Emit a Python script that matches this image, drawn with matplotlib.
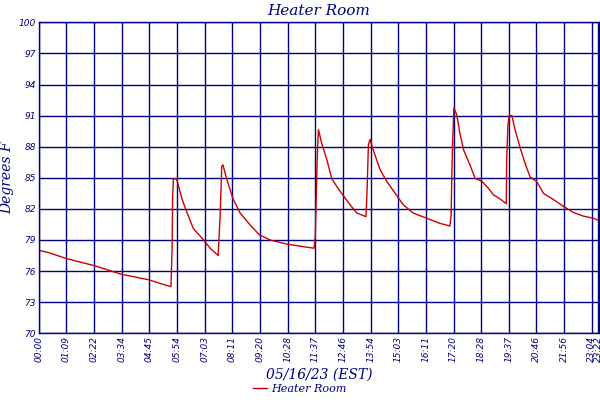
import matplotlib
matplotlib.use("Agg")
import matplotlib.pyplot as plt
import numpy as np

# elapsed time (approx. minutes on the chart's sample axis) and temperature (deg F)
minutes = [0, 23, 70, 141, 206, 276, 321, 331, 334, 335, 337, 345, 359, 370, 387, 408,
           429, 449, 454, 458, 461, 471, 486, 504, 529, 552, 579, 621, 654, 689, 692,
           697, 700, 708, 721, 733, 746, 758, 779, 796, 819, 822, 825, 829, 837, 854,
           871, 892, 912, 937, 971, 1004, 1029, 1032, 1034, 1036, 1039, 1046, 1054,
           1063, 1079, 1092, 1109, 1125, 1138, 1155, 1170, 1171, 1174, 1177, 1184,
           1192, 1205, 1217, 1230, 1246, 1263, 1288, 1313, 1338, 1363, 1388, 1403]
temps = [78.0, 77.8, 77.2, 76.5, 75.7, 75.15, 74.6, 74.5, 78.4, 83.1, 84.9, 84.9, 82.9,
         81.75, 80.1, 79.2, 78.2, 77.5, 81.3, 86.1, 86.25, 84.8, 83.0, 81.6, 80.45, 79.5,
         79.0, 78.6, 78.4, 78.2, 79.3, 87.05, 89.65, 88.35, 86.75, 84.95, 84.15, 83.5,
         82.4, 81.6, 81.25, 84.15, 88.2, 88.7, 87.7, 85.8, 84.65, 83.5, 82.4, 81.6, 81.1,
         80.6, 80.35, 81.4, 85.8, 88.7, 91.75, 91.1, 89.3, 87.7, 86.25, 84.95, 84.65,
         84.0, 83.35, 82.95, 82.5, 86.75, 90.0, 91.0, 91.0, 89.65, 87.85, 86.4, 85.05,
         84.65, 83.5, 82.9, 82.25, 81.65, 81.3, 81.1, 80.85]

x_tick_labels = ["00:00", "01:09", "02:22", "03:34", "04:45", "05:54", "07:03", "08:11",
                 "09:20", "10:28", "11:37", "12:46", "13:54", "15:03", "16:11", "17:20",
                 "18:28", "19:37", "20:46", "21:56", "23:04", "23:22"]
y_ticks = [70, 73, 76, 79, 82, 85, 88, 91, 94, 97, 100]

navy = "#000080"
red = "#CC0000"

fig = plt.figure(figsize=(6, 4), dpi=100)
ax = fig.add_axes([0.0645, 0.167, 0.9345, 0.777])

ax.plot(minutes, temps, color=red, lw=1.0, label="Heater Room")

step = 69.2
xt = list(np.arange(21) * step) + [1400.5]
ax.set_xticks(xt)
ax.set_xticklabels(x_tick_labels, rotation=90, fontsize=6.5, color=navy,
                   fontstyle="italic", family="DejaVu Sans")
ax.set_yticks(y_ticks)
ax.set_yticklabels([str(v) for v in y_ticks], fontsize=6.5, color=navy,
                   fontstyle="italic", family="DejaVu Sans")
ax.set_xlim(0, 1403)
ax.set_ylim(70, 100)
ax.grid(True, color=navy, lw=1.0)
ax.tick_params(axis="both", length=0, pad=2)
for s in ax.spines.values():
    s.set_color(navy)
    s.set_linewidth(1.0)

ax.set_title("Heater Room", color=navy, fontsize=11, fontstyle="italic",
             family="DejaVu Serif", pad=5)
ax.set_ylabel("Degrees F", color=navy, fontsize=10, fontstyle="italic",
              family="DejaVu Serif", labelpad=3)
ax.set_xlabel("05/16/23 (EST)", color=navy, fontsize=10, fontstyle="italic",
              family="DejaVu Serif", labelpad=4)

leg = fig.legend(loc="lower center", bbox_to_anchor=(0.5, -0.01), frameon=False,
                 handlelength=1.2, handletextpad=0.4,
                 prop={"family": "DejaVu Serif", "style": "italic", "size": 8})
for t in leg.get_texts():
    t.set_color(navy)

fig.savefig("out.png", dpi=100)
